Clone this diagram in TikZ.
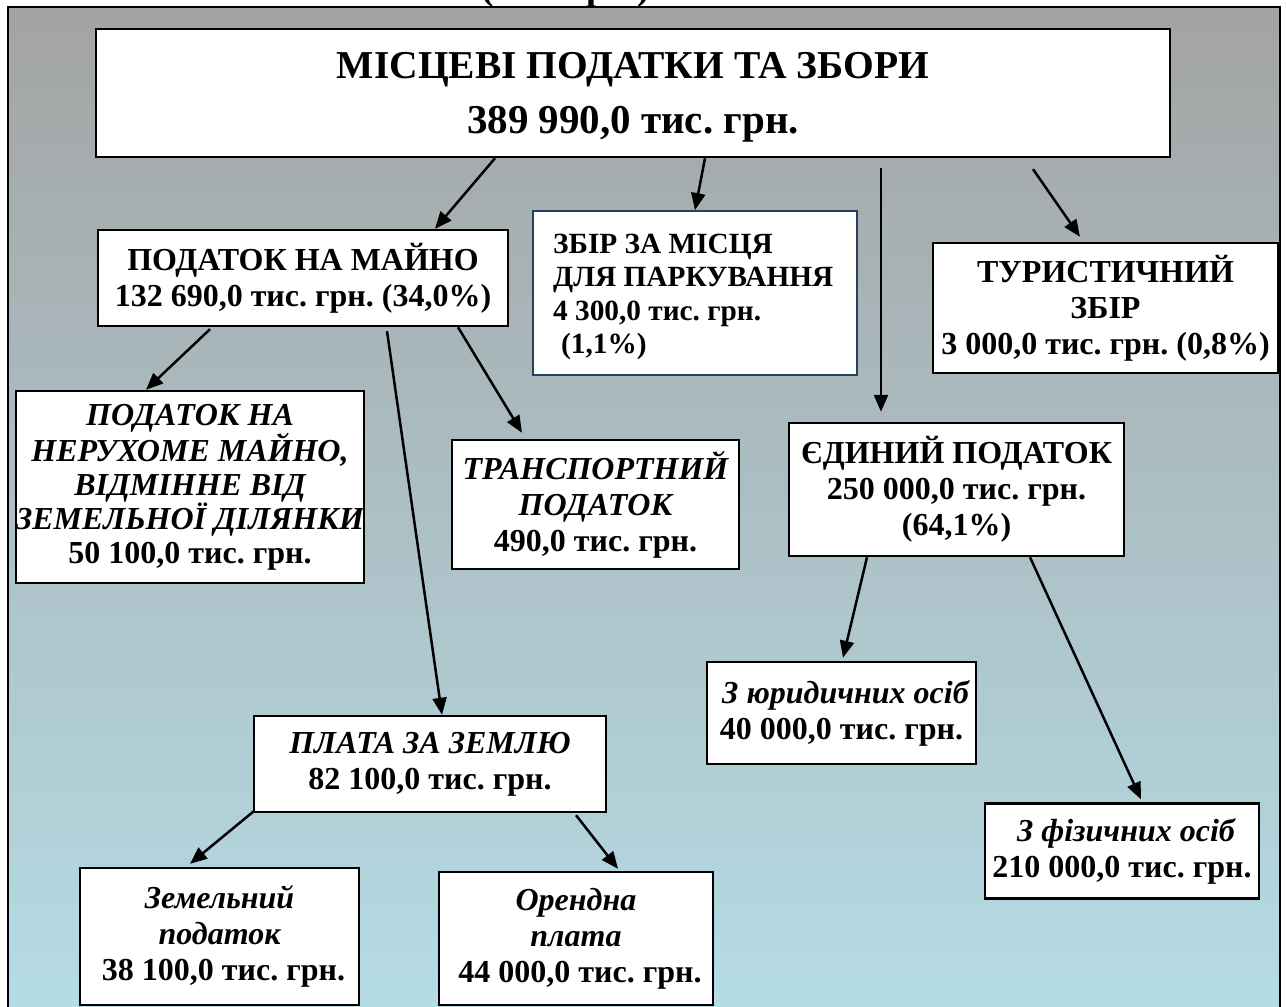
\documentclass[tikz,border=0pt]{standalone}
\usepackage{fontspec}
\setmainfont{Liberation Serif}
\usetikzlibrary{arrows.meta}
\frenchspacing
\definecolor{bgtop}{HTML}{A3A3A3}
\definecolor{bgbot}{HTML}{B5DCE6}
\definecolor{navyedge}{HTML}{243F60}
\tikzset{
  box/.style={draw=black, line width=2.4pt, fill=white, inner sep=0pt, align=center,
    font=\fontsize{32}{36}\selectfont\bfseries},
  arr/.style={line width=2.5pt, -{Triangle[length=17pt,width=14pt]}}
}
\begin{document}
\begin{tikzpicture}[x=1pt,y=-1pt]
\useasboundingbox (0,0) rectangle (1286,1007);
\clip (0,0) rectangle (1286,1007);
% background frame
\shade[top color=bgtop, bottom color=bgbot] (8,7) rectangle (1280,1015);
\draw[line width=1.8pt] (8,1015) -- (8,7) -- (1280,7) -- (1280,1015);
% cut-off heading
\node[anchor=base, inner sep=0pt, font=\fontsize{37.3}{40}\selectfont\bfseries] (head) at (566,-1) {(тис. грн.)};

% boxes
\node[box, minimum width=1074, minimum height=128] (top) at (633,93) {};
\node[inner sep=0pt, align=center, font=\bfseries] (toptext) at (633,97)
  {\fontsize{39.5}{40}\selectfont МІСЦЕВІ ПОДАТКИ ТА ЗБОРИ\\[18pt]\fontsize{41}{40}\selectfont 389 990,0 тис. грн.};
\node[box, minimum width=410, minimum height=96] (pm) at (303,278)
  {ПОДАТОК НА МАЙНО\\132 690,0 тис. грн. (34,0\%)};
\node[box, draw=navyedge, line width=1.8pt, minimum width=324, minimum height=164] (zb) at (695,293) {};
\node[anchor=west, inner sep=0pt, align=left, font=\fontsize{29.3}{33.5}\selectfont\bfseries] (zbtext) at (553,297)
  {ЗБІР ЗА МІСЦЯ\\ДЛЯ ПАРКУВАННЯ\\4 300,0 тис. грн.\\\hspace*{8pt}(1,1\%)};
\node[box, minimum width=345, minimum height=130] (tur) at (1105.5,308)
  {ТУРИСТИЧНИЙ\\ЗБІР\\3 000,0 тис. грн. (0,8\%)};
\node[box, minimum width=335, minimum height=133] (ed) at (956.5,489.5)
  {ЄДИНИЙ ПОДАТОК\\250 000,0 тис. грн.\\(64,1\%)};
\node[box, minimum width=346, minimum height=192, font=\fontsize{32}{34}\selectfont\bfseries] (ner) at (190,487)
  {\itshape ПОДАТОК НА\\\itshape НЕРУХОМЕ МАЙНО,\\\itshape ВІДМІННЕ ВІД\\\itshape ЗЕМЕЛЬНОЇ ДІЛЯНКИ\\50 100,0 тис. грн.};
\node[box, minimum width=287, minimum height=129] (tr) at (595.5,504.5)
  {\itshape ТРАНСПОРТНИЙ\\\itshape ПОДАТОК\\490,0 тис. грн.};
\node[box, minimum width=352, minimum height=96] (pl) at (430,764)
  {\itshape ПЛАТА ЗА ЗЕМЛЮ\\82 100,0 тис. грн.};
\node[box, minimum width=279, minimum height=137] (zem) at (219.5,936.5)
  {\itshape Земельний\\\itshape податок\\\hspace*{8pt}38 100,0 тис. грн.};
\node[box, minimum width=274, minimum height=133] (or) at (576,938.5)
  {\itshape Орендна\\\itshape плата\\\hspace*{8pt}44 000,0 тис. грн.};
\node[box, minimum width=269, minimum height=102] (yur) at (841.5,713)
  {\hspace*{8pt}{\itshape З юридичних осіб}\\40 000,0 тис. грн.};
\node[box, minimum width=274, minimum height=95] (fiz) at (1122,851)
  {\hspace*{8pt}{\itshape З фізичних осіб}\\210 000,0 тис. грн.};

% connectors
\draw[arr] ([xshift=-138pt]top.south) -- ([xshift=132pt]pm.north);
\draw[arr] ([xshift=72pt]top.south) -- (zb.north);
\draw[arr] ([xshift=248pt,yshift=-10pt]top.south) -- ([xshift=-75.5pt,yshift=10pt]ed.north);
\draw[arr] ([xshift=400pt,yshift=-11pt]top.south) -- ([xshift=-25.5pt,yshift=5pt]tur.north);

\draw[arr] ([xshift=-93pt,yshift=-2pt]pm.south) -- ([xshift=-44pt]ner.north);
\draw[arr] ([xshift=155pt]pm.south) -- ([xshift=-73.5pt,yshift=6pt]tr.north);
\draw[arr] ([xshift=84pt,yshift=-4pt]pm.south) -- ([xshift=12pt]pl.north);

\draw[arr] ([xshift=1pt,yshift=2pt]pl.south west) -- ([xshift=-29.5pt,yshift=3pt]zem.north);
\draw[arr] ([xshift=146pt,yshift=-2pt]pl.south) -- ([xshift=42pt,yshift=2pt]or.north);

\draw[arr] ([xshift=-89.5pt]ed.south) -- ([xshift=1.5pt,yshift=3pt]yur.north);
\draw[arr] ([xshift=73.5pt]ed.south) -- ([xshift=19pt,yshift=3pt]fiz.north);
\end{tikzpicture}
\end{document}
